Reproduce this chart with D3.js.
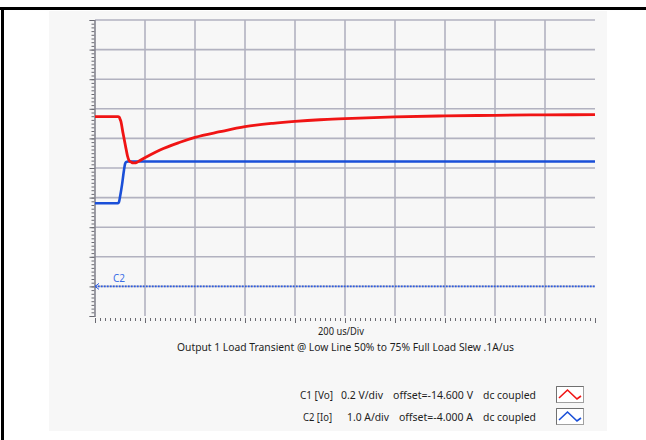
<!DOCTYPE html>
<html>
<head>
<meta charset="utf-8">
<script src="https://cdn.jsdelivr.net/npm/d3@7"></script>
<style>
  html, body { margin: 0; padding: 0; background: #ffffff; }
  svg { display: block; }
  text { font-family: "Noto Sans", "Open Sans", "Liberation Sans", sans-serif; fill: #1e1e1e; }
</style>
</head>
<body>
<svg id="scope" width="646" height="440"></svg>
<script>
// Time base: 200 us/div, 10 divisions
const timeRange = [0, 2000];           // us
const timePerDiv = 200;

// C1 [Vo]: output voltage, 0.2 V/div, offset -14.600 V
const c1Time = [0, 92, 97, 100, 103, 112, 122, 130, 136, 144, 152, 160, 168, 180, 220, 260, 340, 400, 500, 600, 712, 800, 900, 1000, 1200, 1400, 1600, 1800, 2000];
const c1Volts = [14.947, 14.947, 14.944, 14.931, 14.918, 14.836, 14.749, 14.681, 14.651, 14.641, 14.634, 14.634, 14.639, 14.651, 14.688, 14.722, 14.774, 14.807, 14.845, 14.879, 14.902, 14.915, 14.926, 14.933, 14.945, 14.952, 14.956, 14.959, 14.960];

// C2 [Io]: load current, 1.0 A/div, offset -4.000 A
const c2Time = [0, 92, 96, 100, 108, 116, 120, 124, 132, 400, 800, 1200, 1600, 2000];
const c2Amps = [2.81, 2.81, 2.85, 3.02, 3.43, 3.93, 4.13, 4.20, 4.22, 4.22, 4.22, 4.22, 4.22, 4.22];

// Channel settings
const channels = ["C1 [Vo]", "C2 [Io]"];
const scaleLabels = ["0.2 V/div", "1.0 A/div"];
const offsetLabels = ["offset=-14.600 V", "offset=-4.000 A"];
const couplingLabels = ["dc coupled", "dc coupled"];
const channelColors = ["#f01414", "#1a4fd8"];
const timebaseLabel = "200 us/Div";
const captionText = "Output 1 Load Transient @ Low Line 50% to 75% Full Load Slew .1A/us";

const svg = d3.select("#scope");

// Page frame
svg.append("rect").attr("x", 0).attr("y", 7).attr("width", 646).attr("height", 3).attr("fill", "#000");
svg.append("rect").attr("x", 1).attr("y", 7).attr("width", 3).attr("height", 433).attr("fill", "#000");

// Screen panel
svg.append("rect").attr("x", 49).attr("y", 11).attr("width", 558).attr("height", 420).attr("fill", "#f7f7f7");

const plotLeft = 95, plotRight = 595, plotTop = 20, plotBottom = 316;
const x = d3.scaleLinear().domain(timeRange).range([plotLeft, plotRight]);
const yDiv = d3.scaleLinear().domain([-5, 5]).range([plotBottom, plotTop]);      // divisions from centre
const yV = d3.scaleLinear().domain([14.6 - 1.0, 14.6 + 1.0]).range([plotBottom, plotTop]);
const yA = d3.scaleLinear().domain([4 - 5, 4 + 5]).range([plotBottom, plotTop]);

// Grid
const grid = svg.append("g").attr("stroke", "#b2b2c0").attr("stroke-width", 1.6);
grid.selectAll("line.h").data(d3.range(-4, 6)).join("line").attr("class", "h")
  .attr("x1", plotLeft).attr("x2", plotRight)
  .attr("y1", d => yDiv(d)).attr("y2", d => yDiv(d));
grid.selectAll("line.v").data(d3.range(timePerDiv, timeRange[1], timePerDiv)).join("line").attr("class", "v")
  .attr("x1", d => x(d)).attr("x2", d => x(d))
  .attr("y1", plotTop).attr("y2", plotBottom);

// Vertical axis with minor ticks (8 per division)
const yMinor = d3.axisLeft(yDiv).tickValues(d3.range(-5, 5.001, 1 / 8)).tickSize(3).tickFormat("");
const yMajor = d3.axisLeft(yDiv).tickValues(d3.range(-5, 6)).tickSize(5).tickFormat("");
[yMinor, yMajor].forEach(ax => {
  const g = svg.append("g").attr("transform", `translate(${plotLeft - 0.5},0)`).call(ax);
  g.selectAll("line").attr("stroke", "#6a6a72").attr("stroke-width", 1);
  g.select(".domain").attr("stroke", "#8a8a94").attr("stroke-width", 1.2);
});

// Horizontal axis ticks (10 per division), no baseline
const xMinor = d3.axisBottom(x).tickValues(d3.range(0, 2000.1, timePerDiv / 10)).tickSize(3).tickFormat("");
const xMajor = d3.axisBottom(x).tickValues(d3.range(0, 2000.1, timePerDiv)).tickSize(5).tickFormat("");
[xMinor, xMajor].forEach(ax => {
  const g = svg.append("g").attr("transform", `translate(0,${plotBottom + 2})`).call(ax);
  g.selectAll("line").attr("stroke", "#6a6a72").attr("stroke-width", 1);
  g.select(".domain").remove();
});

// C2 ground marker
svg.append("line")
  .attr("x1", plotLeft).attr("x2", plotRight)
  .attr("y1", yA(0)).attr("y2", yA(0))
  .attr("stroke", "#2a5ce6").attr("stroke-width", 1.6).attr("stroke-dasharray", "1.6,1.4");
svg.append("path")
  .attr("d", `M${plotLeft + 4},${yA(0) - 3} L${plotLeft},${yA(0)} L${plotLeft + 4},${yA(0) + 3}`)
  .attr("fill", "none").attr("stroke", "#2a5ce6").attr("stroke-width", 1);
svg.append("text").attr("x", 113).attr("y", yA(0) - 4)
  .style("fill", "#3b6ee6").attr("font-size", 10).text("C2");

// Traces
const c1Line = d3.line().x((d, i) => x(c1Time[i])).y(d => yV(d)).curve(d3.curveMonotoneX);
const c2Line = d3.line().x((d, i) => x(c2Time[i])).y(d => yA(d)).curve(d3.curveMonotoneX);
svg.append("path").attr("d", c2Line(c2Amps))
  .attr("fill", "none").attr("stroke", channelColors[1]).attr("stroke-width", 2.6);
svg.append("path").attr("d", c1Line(c1Volts))
  .attr("fill", "none").attr("stroke", channelColors[0]).attr("stroke-width", 2.8);

// Timebase and caption
svg.append("text").attr("x", 341).attr("y", 335).attr("text-anchor", "middle")
  .attr("font-size", 10.5).attr("textLength", 46).attr("lengthAdjust", "spacingAndGlyphs").text(timebaseLabel);
svg.append("text").attr("x", 345.5).attr("y", 351).attr("text-anchor", "middle")
  .attr("font-size", 10.5).attr("textLength", 337).attr("lengthAdjust", "spacingAndGlyphs").text(captionText);

// Channel legend
const rowY = [399, 421];
const cols = [
  { labels: channels, x: [300, 303], w: [33, 29] },
  { labels: scaleLabels, x: [341, 347], w: [42, 42] },
  { labels: offsetLabels, x: [393, 399], w: [80, 74] },
  { labels: couplingLabels, x: [483, 483], w: [53, 53] }
];
cols.forEach(c => {
  c.labels.forEach((t, i) => {
    svg.append("text").attr("x", c.x[i]).attr("y", rowY[i])
      .attr("font-size", 10.5).attr("textLength", c.w[i]).attr("lengthAdjust", "spacingAndGlyphs").text(t);
  });
});
channelColors.forEach((col, i) => {
  const by = rowY[i] - 13;
  svg.append("rect").attr("x", 556.5).attr("y", by + 0.5).attr("width", 27).attr("height", 16)
    .attr("fill", "#ffffff").attr("stroke", "#a0a0a0").attr("stroke-width", 1);
  svg.append("path").attr("d", `M556.5,${by + 16.5} L556.5,${by + 0.5} L583.5,${by + 0.5}`)
    .attr("fill", "none").attr("stroke", "#707070").attr("stroke-width", 1);
  svg.append("path").attr("d", `M559,${by + 12} L567.5,${by + 4} L577,${by + 13} L581,${by + 10}`)
    .attr("fill", "none").attr("stroke", col).attr("stroke-width", 1.6);
});
</script>
</body>
</html>
